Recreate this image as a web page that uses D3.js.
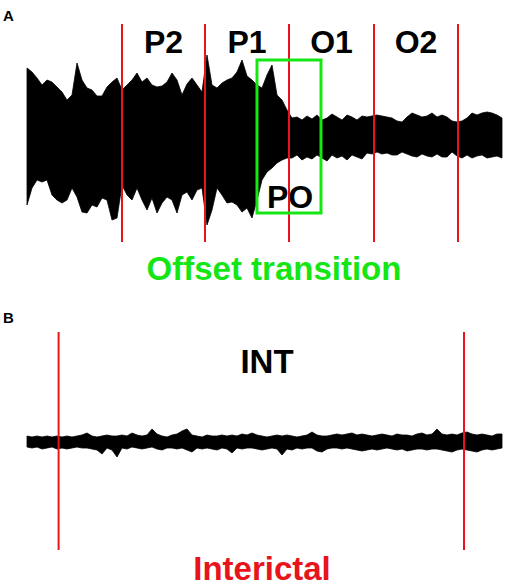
<!DOCTYPE html>
<html>
<head>
<meta charset="utf-8">
<script src="https://cdn.jsdelivr.net/npm/d3@7"></script>
<style>
  body { margin: 0; background: #fff; }
  text { font-family: "Liberation Sans", Arial, sans-serif; font-weight: bold; }
</style>
</head>
<body>
<script>
var width = 510, height = 587;

// sample spacing (s) of the envelope readings
var dt = 0.25;

// panel A: upper / lower envelope of the overlaid traces (arbitrary units)
var hiA = [70,66,60,53,58,56,51,46,38,43,75,58,50,48,42,42,51,56,60,48,
           53,58,65,56,60,53,51,52,56,65,58,43,54,60,53,46,83,53,50,55,
           58,60,66,78,62,58,53,50,63,73,43,38,28,20,21,18,22,19,23,18,
           20,24,21,18,23,21,18,22,21,22,23,22,21,20,17,16,21,25,23,21,
           22,25,21,23,21,17,16,17,20,25,23,25,26,25,23,20];
var loA = [-67,-50,-42,-44,-42,-57,-62,-65,-62,-50,-59,-74,-75,-67,-69,-60,-62,-82,-80,-47,
           -57,-62,-50,-62,-72,-60,-75,-65,-59,-62,-75,-57,-54,-62,-52,-50,-87,-72,-50,-57,
           -65,-64,-67,-74,-70,-80,-62,-42,-34,-30,-25,-22,-20,-20,-17,-22,-19,-21,-17,-20,
           -23,-17,-20,-18,-22,-17,-19,-21,-15,-16,-14,-16,-15,-17,-17,-14,-16,-18,-19,-16,
           -18,-19,-16,-19,-19,-14,-18,-20,-17,-20,-18,-17,-20,-19,-18,-20];

// panel B: interictal envelope
var hiB = [6,5,6,5,6,5,6,5,6,5,6,7,9,6,5,6,7,6,6,7,
           6,9,7,6,7,13,8,6,5,7,8,11,13,7,6,5,7,6,6,7,
           6,7,6,8,7,9,7,6,5,6,7,6,7,6,5,6,7,10,7,6,
           6,7,8,7,8,9,7,8,7,6,7,8,7,6,8,7,7,6,8,9,
           7,8,13,8,7,8,7,9,10,8,7,8,7,6,8,8];
var loB = [-5,-6,-5,-7,-6,-5,-7,-6,-7,-6,-5,-6,-6,-7,-8,-12,-6,-8,-15,-6,
           -7,-5,-6,-7,-6,-5,-7,-8,-6,-6,-7,-6,-8,-10,-6,-7,-6,-7,-8,-6,
           -7,-11,-6,-7,-6,-6,-7,-8,-7,-6,-7,-13,-7,-8,-6,-7,-6,-6,-9,-10,
           -7,-6,-6,-7,-6,-7,-8,-9,-8,-7,-8,-7,-6,-7,-8,-7,-9,-8,-7,-7,
           -8,-7,-7,-8,-9,-10,-8,-7,-8,-9,-10,-8,-7,-8,-7,-6];

// segment boundaries (s) and labels
var boundsA = [4.75, 8.9, 13.1, 17.35, 21.55];
var phasesA = ["P2", "P1", "O1", "O2"];
var poWindow = [11.5, 14.7];
var boundsB = [1.58, 21.85];
var phasesB = ["INT"];

var svg = d3.select("body").append("svg")
    .attr("width", width)
    .attr("height", height);

function panel(g, hi, lo, yTop, yBottom, lineTop, lineBottom) {
  var n = hi.length;
  var x = d3.scaleLinear().domain([0, (n - 1) * dt]).range([27, 502]);
  var y = d3.scaleLinear().domain([-100, 100]).range([yBottom, yTop]);

  var pts = hi.map(function(h, i) { return {t: i * dt, hi: h, lo: lo[i]}; });
  var area = d3.area()
      .x(function(d) { return x(d.t); })
      .y0(function(d) { return y(d.lo); })
      .y1(function(d) { return y(d.hi); });

  g.append("path")
    .datum(pts)
    .attr("d", area)
    .style("fill", "#000")
    .style("stroke", "#000")
    .style("stroke-width", 0.8)
    .style("stroke-linejoin", "miter");

  return {x: x, y: y, lineTop: lineTop, lineBottom: lineBottom};
}

// ---------- panel A ----------
var gA = svg.append("g");
var A = panel(gA, hiA, loA, 38, 238, 114, -104);

gA.selectAll(".bound")
  .data(boundsA)
  .enter().append("line")
  .attr("x1", function(d) { return A.x(d); })
  .attr("x2", function(d) { return A.x(d); })
  .attr("y1", A.y(A.lineTop))
  .attr("y2", A.y(A.lineBottom))
  .style("stroke", "#e8141c")
  .style("stroke-width", 2);

gA.selectAll(".phase")
  .data(phasesA)
  .enter().append("text")
  .attr("x", function(d, i) { return A.x((boundsA[i] + boundsA[i + 1]) / 2); })
  .attr("y", 53)
  .attr("text-anchor", "middle")
  .style("font-size", "32px")
  .style("fill", "#000")
  .text(function(d) { return d; });

gA.append("rect")
  .attr("x", A.x(poWindow[0]))
  .attr("y", A.y(78))
  .attr("width", A.x(poWindow[1]) - A.x(poWindow[0]))
  .attr("height", A.y(-75) - A.y(78))
  .style("fill", "none")
  .style("stroke", "#14e614")
  .style("stroke-width", 3);

gA.append("text")
  .attr("x", A.x((poWindow[0] + poWindow[1]) / 2) + 1)
  .attr("y", 208)
  .attr("text-anchor", "middle")
  .style("font-size", "32px")
  .style("fill", "#000")
  .text("PO");

gA.append("text")
  .attr("x", 274)
  .attr("y", 280)
  .attr("text-anchor", "middle")
  .style("font-size", "33px")
  .style("fill", "#14e614")
  .text("Offset transition");

svg.append("text")
  .attr("x", 3).attr("y", 21)
  .style("font-size", "15px")
  .text("A");

// ---------- panel B ----------
var gB = svg.append("g");
var B = panel(gB, hiB, loB, 342, 542, 110, -108);

gB.selectAll(".bound")
  .data(boundsB)
  .enter().append("line")
  .attr("x1", function(d) { return B.x(d); })
  .attr("x2", function(d) { return B.x(d); })
  .attr("y1", B.y(B.lineTop))
  .attr("y2", B.y(B.lineBottom))
  .style("stroke", "#e8141c")
  .style("stroke-width", 2);

gB.selectAll(".phase")
  .data(phasesB)
  .enter().append("text")
  .attr("x", 267)
  .attr("y", 373)
  .attr("text-anchor", "middle")
  .style("font-size", "33px")
  .style("fill", "#000")
  .text(function(d) { return d; });

gB.append("text")
  .attr("x", 262)
  .attr("y", 580)
  .attr("text-anchor", "middle")
  .style("font-size", "33px")
  .style("fill", "#e8141c")
  .text("Interictal");

svg.append("text")
  .attr("x", 3).attr("y", 323)
  .style("font-size", "15px")
  .text("B");
</script>
</body>
</html>
